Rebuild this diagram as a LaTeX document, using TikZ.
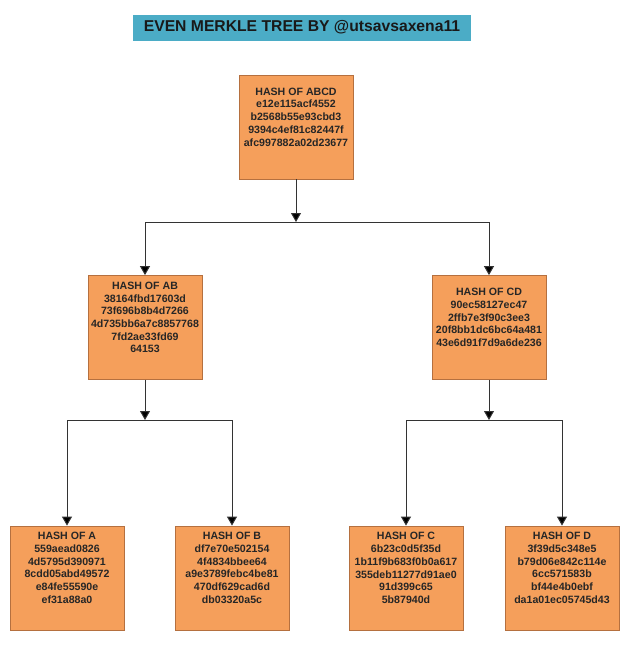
\documentclass[tikz,border=0pt]{standalone}
\usepackage{fontspec}
\setmainfont{Liberation Sans}
\usetikzlibrary{arrows.meta}
\definecolor{hashfill}{HTML}{F59F5B}
\definecolor{hashline}{HTML}{B5703F}
\definecolor{titlefill}{HTML}{4BACC6}
\definecolor{linegray}{HTML}{333333}
\newcommand{\hashtext}[1]{\parbox[c][104pt][c]{114pt}{\centering\fontsize{10.6}{12.7}\selectfont #1\par\vspace{20pt}}}
\tikzset{
    hashbox/.style={draw=hashline, fill=hashfill, line width=0.8pt, inner sep=0pt, text=black!85, font=\bfseries},
    arr/.style={draw=linegray, line width=1pt, -{Triangle[width=10pt,length=9pt,fill=black]}}
}
\begin{document}
\begin{tikzpicture}[x=1pt, y=-1pt]
    \useasboundingbox (0,0) rectangle (640,653);
    % title
    \node[fill=titlefill, minimum width=338pt, minimum height=26pt, inner sep=0pt,
          font=\fontsize{15.7}{18}\selectfont\bfseries, text=black!90] (title) at (302,27.5)
        {EVEN MERKLE TREE BY @utsavsaxena11};
    % root
    \node[hashbox] (abcd) at (296,127) {\hashtext{HASH OF ABCD\\e12e115acf4552\\b2568b55e93cbd3\\9394c4ef81c82447f\\afc997882a02d23677}};
    % second level
    \node[hashbox] (ab) at (145,327.5) {\hashtext{HASH OF AB\\38164fbd17603d\\73f696b8b4d7266\\4d735bb6a7c8857768\\7fd2ae33fd69\\64153}};
    \node[hashbox] (cd) at (489,327.5) {\hashtext{HASH OF CD\\90ec58127ec47\\2ffb7e3f90c3ee3\\20f8bb1dc6bc64a481\\43e6d91f7d9a6de236}};
    % leaves
    \node[hashbox] (a) at (67,578) {\hashtext{HASH OF A\\559aead0826\\4d5795d390971\\8cdd05abd49572\\e84fe55590e\\ef31a88a0}};
    \node[hashbox] (b) at (232,578) {\hashtext{HASH OF B\\df7e70e502154\\4f4834bbee64\\a9e3789febc4be81\\470df629cad6d\\db03320a5c}};
    \node[hashbox] (c) at (406,578) {\hashtext{HASH OF C\\6b23c0d5f35d\\1b11f9b683f0b0a617\\355deb11277d91ae0\\91d399c65\\5b87940d}};
    \node[hashbox] (d) at (562,578) {\hashtext{HASH OF D\\3f39d5c348e5\\b79d06e842c114e\\6cc571583b\\bf44e4b0ebf\\da1a01ec05745d43}};
    % connectors
    \coordinate (topsplit) at (296,222);
    \coordinate (leftsplit) at (145,420);
    \coordinate (rightsplit) at (489,420);
    \foreach \p/\s in {abcd/topsplit, ab/leftsplit, cd/rightsplit}
        \draw[arr] (\p) -- (\s);
    \foreach \s/\c in {topsplit/ab, topsplit/cd, leftsplit/a, leftsplit/b, rightsplit/c, rightsplit/d}
        \draw[arr] (\s) -| (\c);
\end{tikzpicture}
\end{document}
